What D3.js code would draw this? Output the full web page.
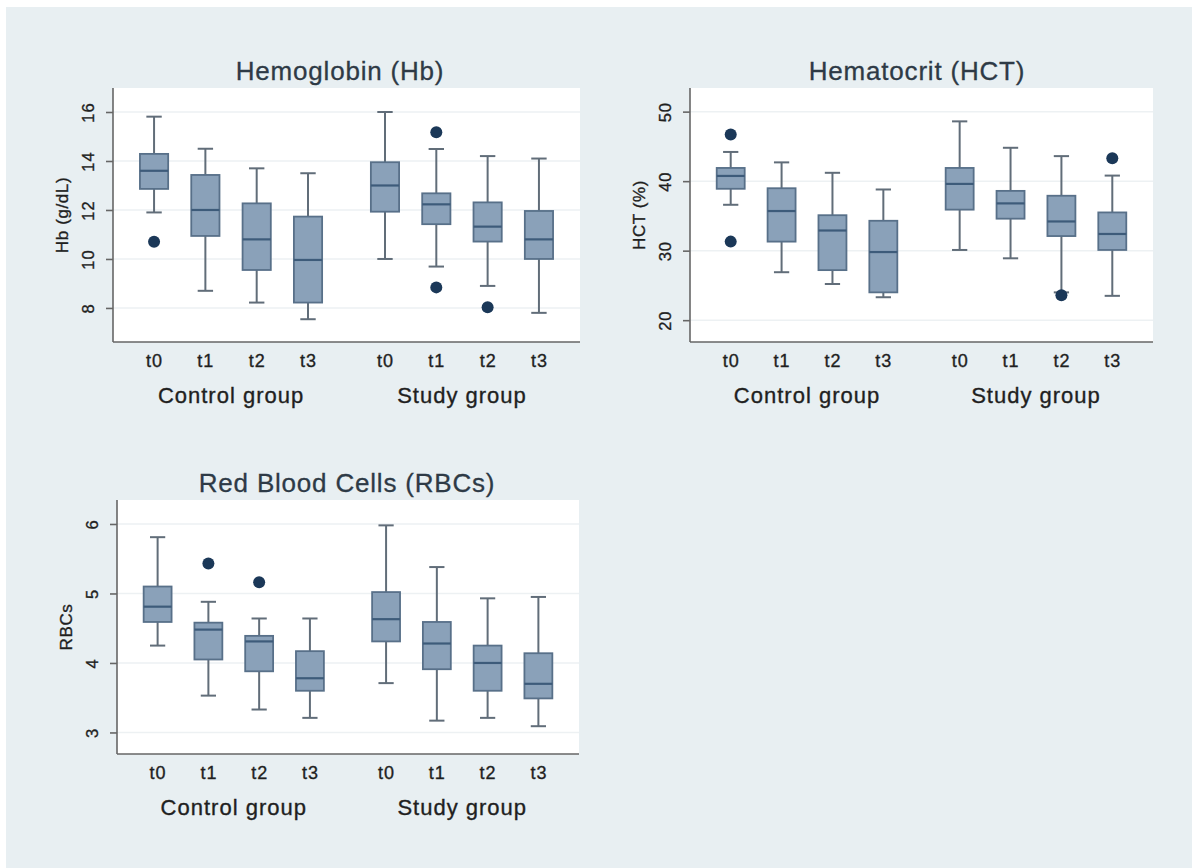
<!DOCTYPE html>
<html><head><meta charset="utf-8">
<script src="https://cdn.jsdelivr.net/npm/d3@7"></script>
<style>html,body{margin:0;padding:0;background:#fff;}svg{display:block;}</style>
</head><body>
<svg id="chart" width="1192" height="868"></svg>
<script>
// ---------- data ----------
const timepoints = ["t0", "t1", "t2", "t3"];
const groups = ["Control group", "Study group"];

const hbTicks = [8, 10, 12, 14, 16];
const hbWhiskerLow  = [11.9, 8.7, 8.22, 7.54, 10.0, 9.69, 8.9, 7.8];
const hbQ1          = [12.86, 10.94, 9.55, 8.22, 11.93, 11.42, 10.71, 10.0];
const hbMedian      = [13.6, 12.0, 10.8, 9.96, 13.0, 12.23, 11.32, 10.8];
const hbQ3          = [14.29, 13.43, 12.27, 11.73, 13.95, 12.68, 12.31, 11.96];
const hbWhiskerHigh = [15.81, 14.5, 13.7, 13.5, 16.0, 14.49, 14.2, 14.1];
const hbOutliers    = [[10.7], [], [], [], [], [15.17, 8.84], [8.03], []];

const hctTicks = [20, 30, 40, 50];
const hctWhiskerLow  = [36.6, 26.9, 25.2, 23.3, 30.1, 28.9, 24.0, 23.5];
const hctQ1          = [38.9, 31.3, 27.2, 24.0, 35.9, 34.6, 32.1, 30.1];
const hctMedian      = [40.75, 35.7, 32.9, 29.8, 39.6, 36.8, 34.2, 32.4];
const hctQ3          = [41.9, 38.98, 35.1, 34.3, 41.9, 38.6, 37.9, 35.5];
const hctWhiskerHigh = [44.2, 42.7, 41.2, 38.8, 48.6, 44.8, 43.6, 40.8];
const hctOutliers    = [[46.7, 31.3], [], [], [], [], [], [23.6], [43.3]];

const rbcTicks = [3, 4, 5, 6];
const rbcWhiskerLow  = [4.25, 3.53, 3.33, 3.21, 3.71, 3.17, 3.21, 3.09];
const rbcQ1          = [4.59, 4.05, 3.88, 3.6, 4.31, 3.91, 3.60, 3.49];
const rbcMedian      = [4.81, 4.48, 4.31, 3.78, 4.63, 4.28, 4.0, 3.70];
const rbcQ3          = [5.10, 4.58, 4.39, 4.17, 5.02, 4.59, 4.25, 4.14];
const rbcWhiskerHigh = [5.81, 4.88, 4.64, 4.64, 5.98, 5.38, 4.93, 4.95];
const rbcOutliers    = [[], [5.43], [5.16], [], [], [], [], []];

// ---------- layout ----------
const panels = [
  {title: "Hemoglobin (Hb)", ytitle: "Hb (g/dL)", titleX: 340, titleY: 80,
   x0: 113, x1: 580, y0: 88, y1: 342, domain: [6.61, 16.98], ticks: hbTicks,
   low: hbWhiskerLow, q1: hbQ1, med: hbMedian, q3: hbQ3, high: hbWhiskerHigh, out: hbOutliers},
  {title: "Hematocrit (HCT)", ytitle: "HCT (%)", titleX: 917, titleY: 80,
   x0: 690, x1: 1153, y0: 88, y1: 342, domain: [16.86, 53.4], ticks: hctTicks,
   low: hctWhiskerLow, q1: hctQ1, med: hctMedian, q3: hctQ3, high: hctWhiskerHigh, out: hctOutliers},
  {title: "Red Blood Cells (RBCs)", ytitle: "RBCs", titleX: 347, titleY: 492,
   x0: 117, x1: 579, y0: 500, y1: 754, domain: [2.69, 6.345], ticks: rbcTicks,
   low: rbcWhiskerLow, q1: rbcQ1, med: rbcMedian, q3: rbcQ3, high: rbcWhiskerHigh, out: rbcOutliers}
];

const FONT = "'Liberation Sans', Arial, Helvetica, sans-serif";
const TXT = "#1f1f1f";
const svg = d3.select("#chart");
svg.append("rect").attr("x", 6).attr("y", 7).attr("width", 1186).attr("height", 861).attr("fill", "#e8eff2");

// category positions: two groups of four, gap of 1.5 steps
const positions = [];
groups.forEach((g, gi) => timepoints.forEach((t, ti) => positions.push({g: gi, t, pos: gi * 4.5 + ti})));

function heavy(sel, w) {
  return sel.attr("stroke", TXT).attr("stroke-width", w).attr("paint-order", "stroke");
}

panels.forEach(p => {
  const g = svg.append("g");
  const x = d3.scaleLinear().domain([-0.8, 8.3]).range([p.x0, p.x1]);
  const y = d3.scaleLinear().domain(p.domain).range([p.y1, p.y0]);
  const step = x(1) - x(0);
  const bw = step * 0.55, cw = step * 0.3;

  // plot region
  g.append("rect").attr("x", p.x0).attr("y", p.y0).attr("width", p.x1 - p.x0).attr("height", p.y1 - p.y0).attr("fill", "#ffffff");
  // grid
  g.selectAll(".grid").data(p.ticks).join("line")
    .attr("x1", p.x0).attr("x2", p.x1).attr("y1", d => y(d)).attr("y2", d => y(d))
    .attr("stroke", "#edf1f3").attr("stroke-width", 1.5);

  // y axis
  const yAxis = d3.axisLeft(y).tickValues(p.ticks).tickSize(7).tickPadding(0).tickFormat(d3.format("d"));
  const ya = g.append("g").attr("transform", `translate(${p.x0},0)`).call(yAxis);
  ya.select(".domain").attr("d", `M0,${p.y0}V${p.y1}`).attr("stroke", "#666").attr("stroke-width", 1.6);
  ya.selectAll(".tick line").attr("stroke", "#666").attr("stroke-width", 1.6);
  heavy(ya.selectAll(".tick text")
    .attr("transform", "rotate(-90)").attr("x", 0).attr("y", -19).attr("dy", 0)
    .attr("text-anchor", "middle").attr("fill", TXT)
    .style("font-family", FONT).style("font-size", "16.5px").style("letter-spacing", "1px"), 0.35);

  // x axis
  const xAxis = d3.axisBottom(x).tickValues(positions.map(d => d.pos)).tickSize(0).tickPadding(0)
    .tickFormat((d, i) => positions[i].t);
  const xa = g.append("g").attr("transform", `translate(0,${p.y1})`).call(xAxis);
  xa.select(".domain").attr("d", `M${p.x0},0H${p.x1}`).attr("stroke", "#666").attr("stroke-width", 1.6);
  heavy(xa.selectAll(".tick text").attr("y", 25).attr("dy", 0).attr("fill", TXT)
    .style("font-family", FONT).style("font-size", "18px").style("letter-spacing", "1px"), 0.35);

  // group labels
  groups.forEach((gr, gi) => {
    heavy(g.append("text").attr("x", x(gi * 4.5 + 1.5)).attr("y", p.y1 + 61).attr("text-anchor", "middle")
      .attr("fill", TXT).style("font-family", FONT).style("font-size", "22px").style("letter-spacing", "1px").text(gr), 0.35);
  });

  // y title
  heavy(g.append("text").attr("transform", `translate(${p.x0 - 45},${(p.y0 + p.y1) / 2}) rotate(-90)`)
    .attr("text-anchor", "middle").attr("fill", TXT)
    .style("font-family", FONT).style("font-size", "17px").style("letter-spacing", "0.6px").text(p.ytitle), 0.35);

  // title
  g.append("text").attr("x", p.titleX).attr("y", p.titleY).attr("text-anchor", "middle")
    .attr("fill", "#2e3a46").attr("stroke", "#2e3a46").attr("stroke-width", 0.3)
    .style("font-family", FONT).style("font-size", "26px").style("letter-spacing", "0.8px").text(p.title);

  // boxes
  const data = positions.map((d, i) => ({pos: d.pos, low: p.low[i], q1: p.q1[i], med: p.med[i], q3: p.q3[i], high: p.high[i], out: p.out[i]}));
  const bx = g.selectAll(".bx").data(data).join("g");
  const wc = "#616d79";
  bx.append("line").attr("x1", d => x(d.pos)).attr("x2", d => x(d.pos)).attr("y1", d => y(d.q3)).attr("y2", d => y(d.high))
    .attr("stroke", wc).attr("stroke-width", 2);
  bx.append("line").attr("x1", d => x(d.pos)).attr("x2", d => x(d.pos)).attr("y1", d => y(d.q1)).attr("y2", d => y(d.low))
    .attr("stroke", wc).attr("stroke-width", 2);
  bx.append("line").attr("x1", d => x(d.pos) - cw / 2).attr("x2", d => x(d.pos) + cw / 2).attr("y1", d => y(d.high)).attr("y2", d => y(d.high))
    .attr("stroke", wc).attr("stroke-width", 2);
  bx.append("line").attr("x1", d => x(d.pos) - cw / 2).attr("x2", d => x(d.pos) + cw / 2).attr("y1", d => y(d.low)).attr("y2", d => y(d.low))
    .attr("stroke", wc).attr("stroke-width", 2);
  bx.append("rect").attr("x", d => x(d.pos) - bw / 2).attr("width", bw)
    .attr("y", d => y(d.q3)).attr("height", d => y(d.q1) - y(d.q3))
    .attr("fill", "#8aa1b9").attr("stroke", "#587089").attr("stroke-width", 1.8);
  bx.append("line").attr("x1", d => x(d.pos) - bw / 2).attr("x2", d => x(d.pos) + bw / 2).attr("y1", d => y(d.med)).attr("y2", d => y(d.med))
    .attr("stroke", "#3d5b7a").attr("stroke-width", 2.2);
  bx.selectAll("circle").data(d => d.out.map(v => ({pos: d.pos, v}))).join("circle")
    .attr("cx", d => x(d.pos)).attr("cy", d => y(d.v)).attr("r", 6).attr("fill", "#1b3858");
});
</script>
</body></html>
